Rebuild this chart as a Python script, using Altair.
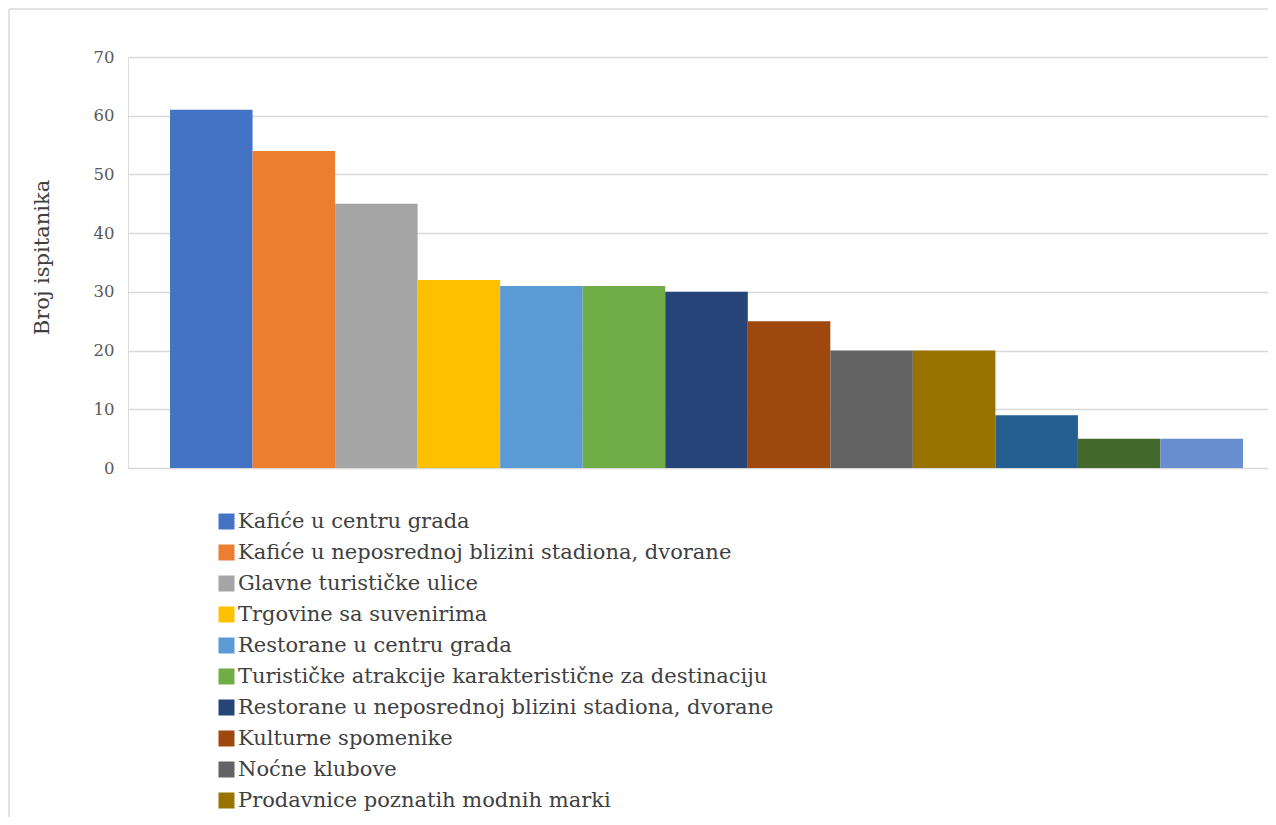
import altair as alt
import pandas as pd

categories = [
    "Kafiće u centru grada",
    "Kafiće u neposrednoj blizini stadiona, dvorane",
    "Glavne turističke ulice",
    "Trgovine sa suvenirima",
    "Restorane u centru grada",
    "Turističke atrakcije karakteristične za destinaciju",
    "Restorane u neposrednoj blizini stadiona, dvorane",
    "Kulturne spomenike",
    "Noćne klubove",
    "Prodavnice poznatih modnih marki",
    "Plaže",
    "Parkove",
    "Drugo",
]
values = [61, 54, 45, 32, 31, 31, 30, 25, 20, 20, 9, 5, 5]
colors = [
    "#4472C4", "#ED7D31", "#A5A5A5", "#FFC000", "#5B9BD5", "#70AD47",
    "#264478", "#9E480E", "#636363", "#997300", "#255E91", "#43682B", "#698ED0",
]
y_ticks = [0, 10, 20, 30, 40, 50, 60, 70]

FONT = "DejaVu Serif"

df = pd.DataFrame({"Mjesto": categories, "Broj": values})

bars = alt.Chart(df).mark_bar().encode(
    x=alt.X(
        "Mjesto:N",
        sort=categories,
        axis=None,
        scale=alt.Scale(paddingInner=0, paddingOuter=0.406, align=0.627),
    ),
    y=alt.Y(
        "Broj:Q",
        scale=alt.Scale(domain=[0, 70], nice=False),
        axis=alt.Axis(
            values=y_ticks,
            title="Broj ispitanika",
            titleFont=FONT,
            titleFontSize=21,
            titleFontWeight="normal",
            titleColor="#404040",
            titleX=-86,
            titleY=200,
            titleBaseline="middle",
            titleAngle=270,
            labelFont=FONT,
            labelFontSize=16.5,
            labelColor="#595959",
            labelPadding=14,
            domain=False,
            ticks=False,
            grid=True,
            gridColor="#d9d9d9",
            gridWidth=1.3,
        ),
    ),
    color=alt.Color(
        "Mjesto:N",
        sort=categories,
        scale=alt.Scale(domain=categories, range=colors),
        legend=alt.Legend(
            title=None,
            orient="none",
            legendX=88,
            legendY=454,
            direction="vertical",
            columns=1,
            symbolType="square",
            symbolSize=256,
            symbolStrokeWidth=0,
            labelFont=FONT,
            labelFontSize=21,
            labelColor="#404040",
            labelLimit=1000,
            labelOffset=1,
            rowPadding=9.0,
            padding=0,
        ),
    ),
)

frame_df = pd.DataFrame({"k": [0]})
frame_v = alt.Chart(frame_df).mark_rule(color="#d9d9d9", strokeWidth=1.5).encode(
    x=alt.value(-119), y=alt.value(-48), y2=alt.value(900)
)
frame_h = alt.Chart(frame_df).mark_rule(color="#d9d9d9", strokeWidth=1.5).encode(
    x=alt.value(-119), x2=alt.value(1300), y=alt.value(-48)
)

chart = (
    alt.layer(frame_v, frame_h, bars)
    .properties(
        width=1140,
        height=411,
        autosize=alt.AutoSizeParams(type="none"),
        padding={"left": 120, "top": 49, "right": 0, "bottom": 349},
    )
    .configure_view(stroke=None)
    .configure(background="white", font=FONT)
)

chart.save("out.html", embed_options={"renderer": "svg", "actions": False})
